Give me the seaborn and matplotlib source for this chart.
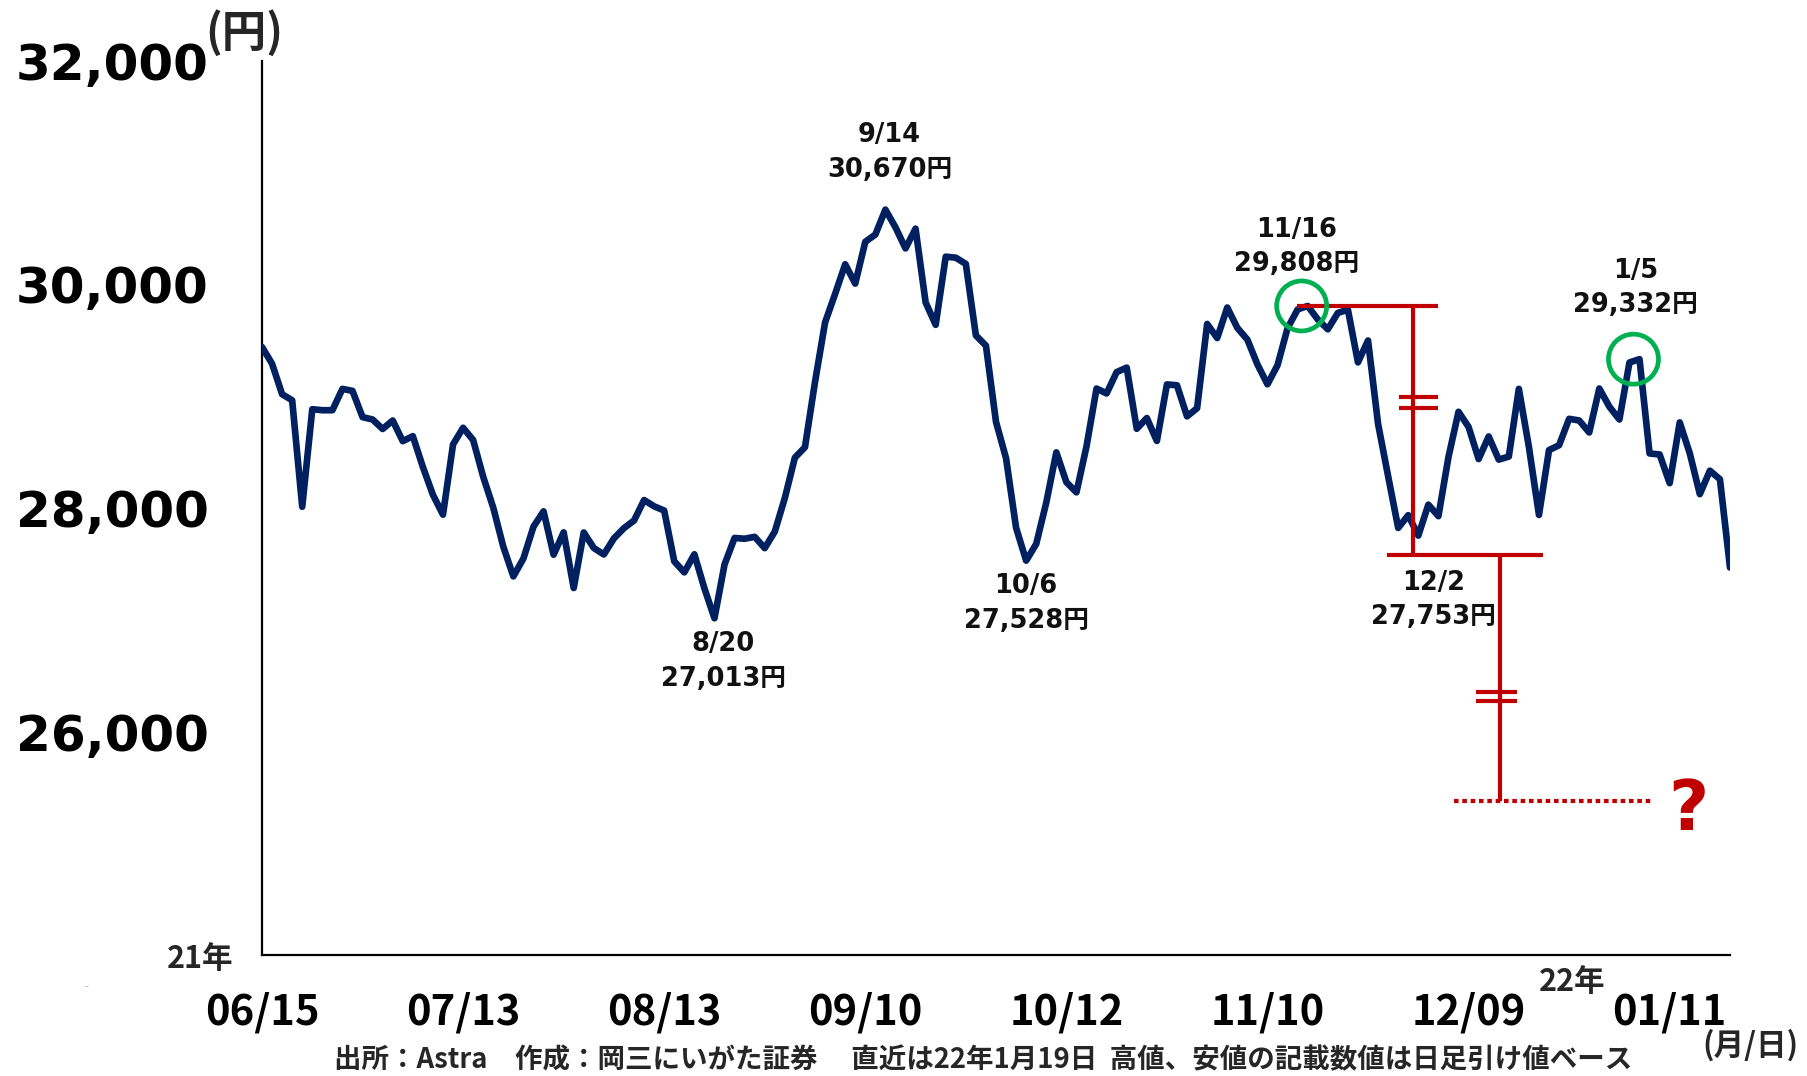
import matplotlib
matplotlib.use("Agg")
import matplotlib.pyplot as plt
import seaborn as sns
import pandas as pd

# ---------------- data ----------------
dates = [
    "06/15", "06/16", "06/17", "06/18", "06/21", "06/22", "06/23", "06/24", "06/25", "06/28", "06/29", "06/30",
    "07/01", "07/02", "07/05", "07/06", "07/07", "07/08", "07/09", "07/12", "07/13", "07/14", "07/15", "07/16",
    "07/19", "07/20", "07/21", "07/26", "07/27", "07/28", "07/29", "07/30",
    "08/02", "08/03", "08/04", "08/05", "08/06", "08/10", "08/11", "08/12", "08/13", "08/16", "08/17", "08/18",
    "08/19", "08/20", "08/23", "08/24", "08/25", "08/26", "08/27", "08/30", "08/31",
    "09/01", "09/02", "09/03", "09/06", "09/07", "09/08", "09/09", "09/10", "09/13", "09/14", "09/15", "09/16",
    "09/17", "09/21", "09/22", "09/24", "09/27", "09/28", "09/29", "09/30",
    "10/01", "10/04", "10/05", "10/06", "10/07", "10/08", "10/11", "10/12", "10/13", "10/14", "10/15", "10/18",
    "10/19", "10/20", "10/21", "10/22", "10/25", "10/26", "10/27", "10/28", "10/29",
    "11/01", "11/02", "11/04", "11/05", "11/08", "11/09", "11/10", "11/11", "11/12", "11/15", "11/16", "11/17",
    "11/18", "11/19", "11/22", "11/24", "11/25", "11/26", "11/29", "11/30",
    "12/01", "12/02", "12/03", "12/06", "12/07", "12/08", "12/09", "12/10", "12/13", "12/14", "12/15", "12/16",
    "12/17", "12/20", "12/21", "12/22", "12/23", "12/24", "12/27", "12/28", "12/29", "12/30",
    "01/04", "01/05", "01/06", "01/07", "01/11", "01/12", "01/13", "01/14", "01/17", "01/18", "01/19",
]
closes = [
    29441, 29291, 29018, 28964, 28011, 28884, 28875, 28875, 29066, 29048, 28813, 28792,
    28707, 28783, 28598, 28643, 28367, 28118, 27940, 28569, 28718, 28608, 28279, 28003,
    27653, 27388, 27548, 27833, 27970, 27582, 27782, 27284,
    27781, 27642, 27584, 27728, 27820, 27888, 28071, 28015, 27977, 27523, 27424, 27586,
    27281, 27013, 27494, 27732, 27725, 27742, 27641, 27789, 28090,
    28451, 28544, 29128, 29660, 29916, 30181, 30008, 30382, 30447, 30670, 30512, 30323,
    30500, 29840, 29639, 30249, 30240, 30184, 29544, 29453,
    28771, 28445, 27822, 27529, 27678, 28049, 28498, 28231, 28140, 28551, 29069, 29025,
    29216, 29256, 28709, 28805, 28600, 29106, 29098, 28820, 28893,
    29647, 29521, 29794, 29612, 29507, 29285, 29107, 29278, 29610, 29777, 29808, 29688,
    29599, 29746, 29774, 29303, 29499, 28752, 28284, 27822,
    27936, 27753, 28030, 27927, 28456, 28861, 28725, 28438, 28640, 28433, 28460, 29066,
    28546, 27938, 28518, 28562, 28798, 28783, 28676, 29069, 28907, 28792,
    29302, 29332, 28488, 28479, 28222, 28766, 28489, 28124, 28334, 28257, 27467,
]
tick_dates = ["06/15", "07/13", "08/13", "09/10", "10/12", "11/10", "12/09", "01/11"]
ytick_values = [24000, 26000, 28000, 30000, 32000]
ytick_labels = ["", "26,000", "28,000", "30,000", "32,000"]

# annotated extremes: (date, label)
notes = [("08/20", "8/20\n27,013円"), ("09/14", "9/14\n30,670円"), ("10/06", "10/6\n27,528円"),
         ("11/16", "11/16\n29,808円"), ("12/02", "12/2\n27,753円"), ("01/05", "1/5\n29,332円")]
circled = ["11/16", "01/05"]

# measuring guide (red) values
guide_top = 29808
guide_mid = 27579
guide_target = 25380

footer = "出所：Astra　作成：岡三にいがた証券　 直近は22年1月19日  高値、安値の記載数値は日足引け値ベース"

# ---------------- plot ----------------
sns.set_theme(style="white")
plt.rcParams["font.family"] = ["DejaVu Sans", "Noto Sans CJK JP"]
CJK = ["Noto Sans CJK JP", "DejaVu Sans"]

df = pd.DataFrame({"idx": range(len(dates)), "date": dates, "close": closes})
pos = {d: i for i, d in enumerate(dates)}
val = dict(zip(dates, closes))

W, H = 1808, 1076
fig = plt.figure(figsize=(W / 100, H / 100), dpi=100)
ax = fig.add_axes([262 / W, 121 / H, (1730 - 262) / W, (1015 - 121) / H])

NAVY = "#002060"
RED = "#C00000"
GREEN = "#00B050"

sns.lineplot(data=df, x="idx", y="close", ax=ax, color=NAVY, linewidth=4.8,
             zorder=3, legend=False)

ax.set_xlim(0, len(dates) - 1)
ax.set_ylim(24000, 32000)

for s in ["top", "right"]:
    ax.spines[s].set_visible(False)
for s in ["left", "bottom"]:
    ax.spines[s].set_color("black")
    ax.spines[s].set_linewidth(1.6)

ax.set_yticks(ytick_values)
ax.set_yticklabels(ytick_labels, fontsize=36, fontweight="bold")
ax.tick_params(axis="y", direction="out", length=13.5, width=1.5, pad=25, colors="black")

ax.set_xticks([pos[d] for d in tick_dates])
ax.set_xticklabels(tick_dates, fontsize=30, fontweight="bold", family=CJK)
ax.tick_params(axis="x", direction="in", length=9, width=1.5, pad=26, colors="black")
ax.set_xlabel("")
ax.set_ylabel("")

# annotations
offsets = {"08/20": (6.5, -9.5, "top"), "09/14": (3, 19.5, "bottom"), "10/06": (0, -9, "top"),
           "11/16": (-8, 20.5, "bottom"), "12/02": (11, -24.5, "top"), "01/05": (-3, 29.5, "bottom")}
for d, label in notes:
    dx, dy, va = offsets[d]
    ax.annotate(label, xy=(pos[d], val[d]), xytext=(dx, dy), textcoords="offset points",
                ha="center", va=va, fontsize=18.5, fontweight="bold", linespacing=1.42,
                color="#111111", zorder=6)

# green circles
ax.scatter([pos[d] - 0.6 for d in circled], [val[d] for d in circled], s=1296,
           facecolors="none", edgecolors=GREEN, linewidths=3.4, zorder=5)

# red measuring guide
x_hi = pos["11/16"]
ax.hlines(guide_top, x_hi - 1.1, x_hi + 13.0, color=RED, lw=3, zorder=4)
ax.vlines(x_hi + 10.5, guide_mid, guide_top, color=RED, lw=3, zorder=4)
ax.hlines([28993, 28895], x_hi + 9.1, x_hi + 13.0, color=RED, lw=3, zorder=4)
ax.hlines(guide_mid, x_hi + 7.9, x_hi + 23.4, color=RED, lw=3, zorder=4)
ax.vlines(x_hi + 19.1, guide_target, guide_mid, color=RED, lw=3, zorder=4)
ax.hlines([26353, 26273], x_hi + 16.7, x_hi + 20.8, color=RED, lw=3, zorder=4)
ax.hlines(guide_target, x_hi + 14.6, x_hi + 34.1, color=RED, lw=3,
          linestyles=(0, (1.1, 0.9)), zorder=4)
ax.text(x_hi + 37.9, guide_target - 90, "?", color=RED, fontsize=50, fontweight="heavy",
        ha="center", va="center", zorder=6)

# extra texts
ax.text(-0.0198, 23960, "21年", transform=ax.get_yaxis_transform(), ha="right", va="center",
        fontsize=22, fontweight="bold", family=CJK)
fig.text(244 / W, 1 - 33 / H, "(円)", ha="center", va="center", fontsize=32,
         fontweight="bold", family=CJK)
fig.text(1572 / W, 1 - 982 / H, "22年", ha="center", va="center", fontsize=22,
         fontweight="bold", family=CJK)
fig.text(1750 / W, 1 - 1045 / H, "(月/日)", ha="center", va="center", fontsize=22,
         fontweight="bold", family=CJK)
fig.text(983 / W, 1 - 1060 / H, footer, ha="center", va="center", fontsize=19.8,
         fontweight="bold", family=CJK)
fig.text(86 / W, 1 - 986 / H, "-", ha="center", va="center", fontsize=8, color="#aaaaaa")

fig.savefig("out.png", dpi=100, facecolor="white")
